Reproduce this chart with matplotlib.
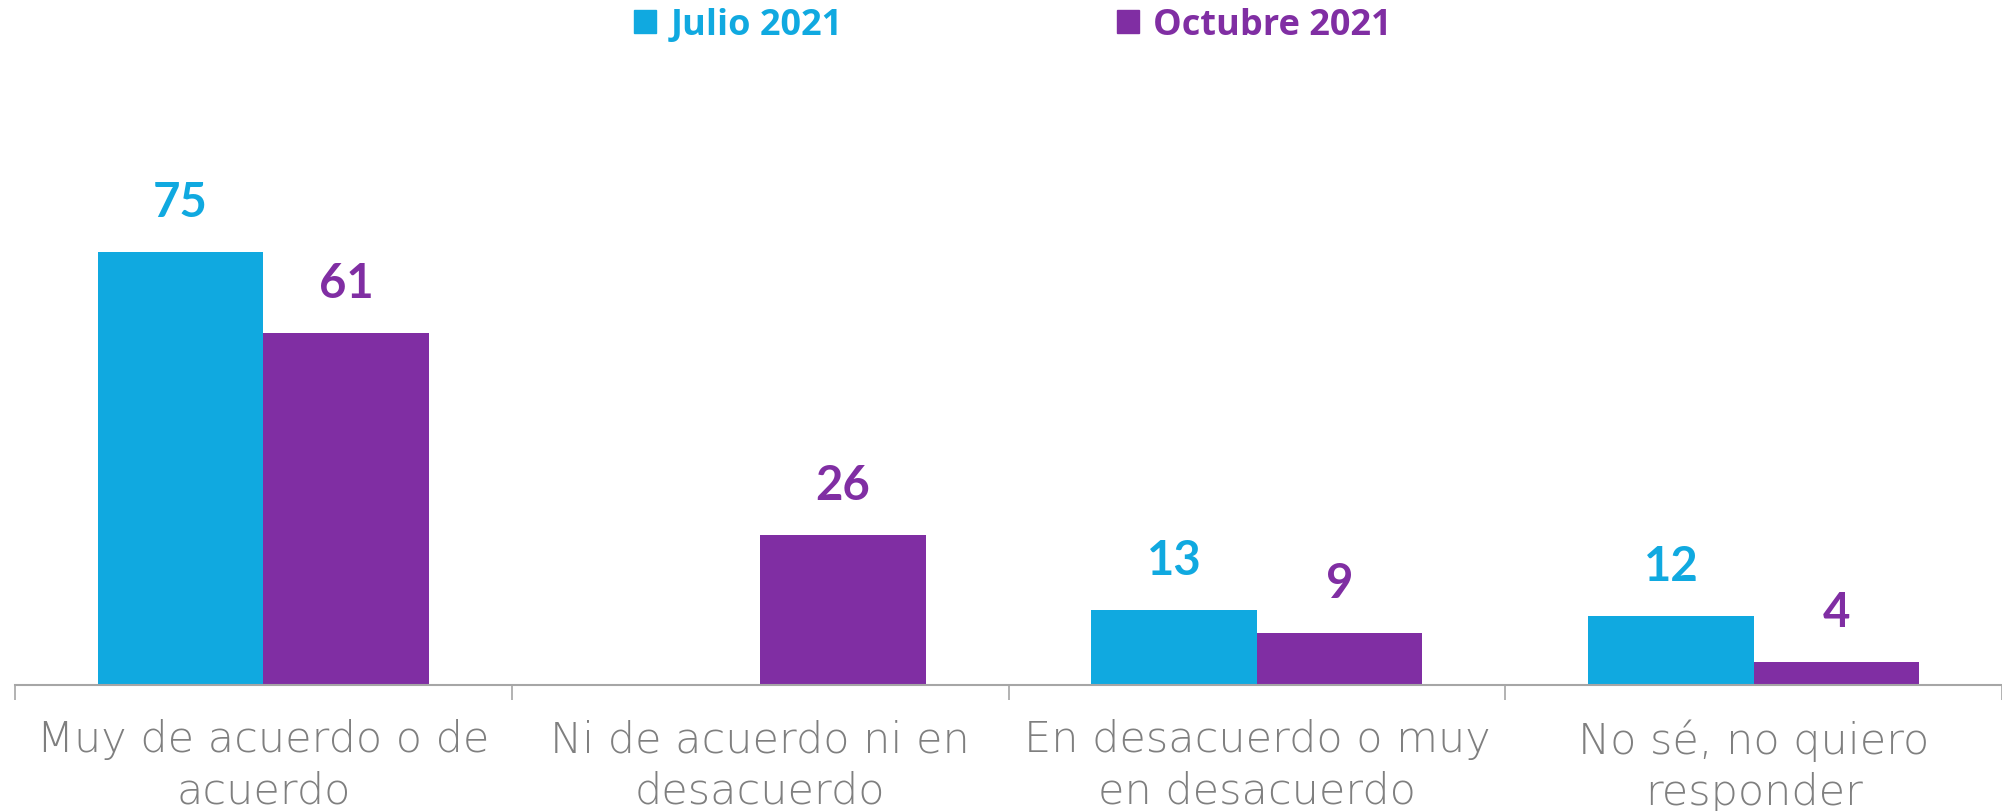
import numpy as np
import matplotlib.pyplot as plt
from matplotlib.patches import Patch

# data
categories = ['Muy de acuerdo o de\nacuerdo', 'Ni de acuerdo ni en\ndesacuerdo',
              'En desacuerdo o muy\nen desacuerdo', 'No sé, no quiero\nresponder']
julio = [75, np.nan, 13, 12]
octubre = [61, 26, 9, 4]
series_names = ['Julio 2021', 'Octubre 2021']

blue = '#10A9E0'
purple = '#802EA3'
grey = '#7F7F7F'

fig = plt.figure(figsize=(20.02, 8.12), dpi=100)
ax = fig.add_axes([15 / 2002, 126 / 812, 1 - 15 / 2002, 462 / 812])

x = np.arange(len(categories))
w = 1 / 3
b1 = ax.bar(x - w / 2, julio, w, color=blue)
b2 = ax.bar(x + w / 2, octubre, w, color=purple)

def labels(vals):
    return ['' if np.isnan(v) else f'{v:g}' for v in vals]

ax.bar_label(b1, labels=labels(julio), padding=20, color=blue,
             fontsize=34, fontweight='bold', family='Lato')
ax.bar_label(b2, labels=labels(octubre), padding=20, color=purple,
             fontsize=34, fontweight='bold', family='Lato')

ax.set_xlim(-0.5, len(categories) - 0.5)
ax.set_ylim(0, 80)
ax.set_yticks([])
for s in ['top', 'right', 'left']:
    ax.spines[s].set_visible(False)
ax.spines['bottom'].set_color('#A6A6A6')
ax.spines['bottom'].set_linewidth(1.5)

ax.set_xticks(x)
ax.set_xticklabels(categories, fontsize=31, color=grey, family='DejaVu Sans',
                   fontweight='light', linespacing=1.32)
ax.tick_params(axis='x', which='major', length=0, pad=24)
ax.set_xticks(np.arange(len(categories) + 1) - 0.5, minor=True)
ax.tick_params(axis='x', which='minor', length=11, width=1.2, color='#A6A6A6')

handles = [Patch(color=blue), Patch(color=purple)]
leg = fig.legend(handles, series_names, loc='upper center', ncol=2,
                 bbox_to_anchor=(0.506, 1.03), frameon=False,
                 prop={'family': 'Open Sans', 'weight': 'bold', 'size': 26},
                 handlelength=0.6, handleheight=0.6, handletextpad=0.4,
                 columnspacing=7.6)
for t, c in zip(leg.get_texts(), [blue, purple]):
    t.set_color(c)

fig.savefig('out.png', dpi=100)
